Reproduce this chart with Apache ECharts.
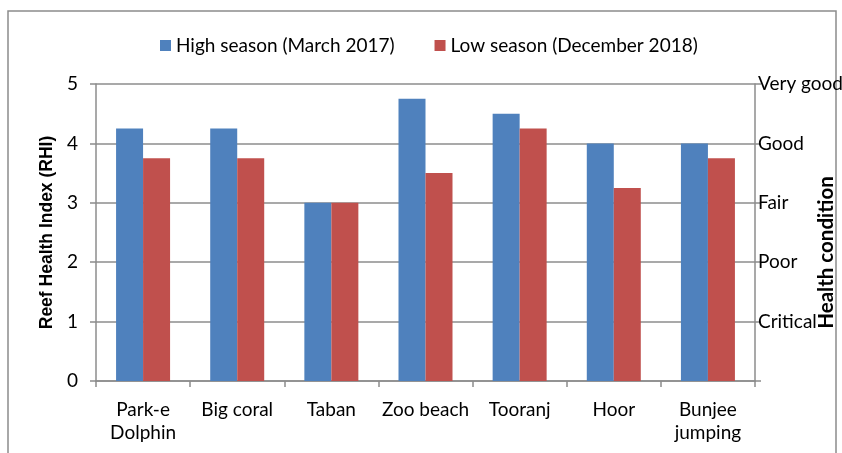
<!DOCTYPE html>
<html>
<head>
<meta charset="utf-8">
<script src="https://cdn.jsdelivr.net/npm/echarts@6/dist/echarts.min.js"></script>
<style>
  html, body { margin: 0; padding: 0; background: #fff; }
  #main { width: 842px; height: 453px; }
</style>
</head>
<body>
<div id="main"></div>
<script>
var sites = ['Park-e\nDolphin', 'Big coral', 'Taban', 'Zoo beach', 'Tooranj', 'Hoor', 'Bunjee\njumping'];
var highSeason = [4.25, 4.25, 3, 4.75, 4.5, 4, 4];
var lowSeason = [3.75, 3.75, 3, 3.5, 4.25, 3.25, 3.75];
var conditionLabels = ['', 'Critical', 'Poor', 'Fair', 'Good', 'Very good'];

window.onload = function() {
  var ch = echarts.init(document.getElementById('main'));
  var font = 'Lato, "Open Sans", sans-serif';
  var op = {
    textStyle: { fontFamily: font },
    graphic: [{
      type: 'rect',
      shape: { x: 8, y: 11, width: 828, height: 460 },
      style: { fill: 'none', stroke: '#8c8c8c', lineWidth: 1.5 },
      silent: true
    }],
    legend: {
      top: 31,
      left: 155,
      itemWidth: 11,
      itemHeight: 11,
      itemGap: 40,
      icon: 'rect',
      textStyle: { fontSize: 19, color: '#000', fontFamily: font }
    },
    grid: {
      left: 96,
      right: 87,
      top: 84,
      bottom: 72,
      outerBoundsMode: 'none'
    },
    xAxis: {
      type: 'category',
      data: sites,
      axisLine: { lineStyle: { color: '#8c8c8c', width: 1.5 } },
      axisTick: { show: true, length: 6, lineStyle: { color: '#8c8c8c', width: 1.5 } },
      axisLabel: { color: '#000', fontSize: 19, margin: 17, lineHeight: 23, interval: 0, fontFamily: font }
    },
    yAxis: [{
      type: 'value',
      min: 0,
      max: 5,
      interval: 1,
      name: 'Reef Health Index (RHI)',
      nameLocation: 'middle',
      nameGap: 40,
      nameMoveOverlap: false,
      nameTextStyle: { fontSize: 17.5, fontWeight: 'bold', color: '#000', fontFamily: '"Liberation Sans", Arial, sans-serif' },
      axisLine: { show: true, lineStyle: { color: '#8c8c8c', width: 1.5 } },
      axisTick: { show: true, length: 6, lineStyle: { color: '#8c8c8c', width: 1.5 } },
      axisLabel: { color: '#000', fontSize: 19, margin: 18, fontFamily: font },
      splitLine: { lineStyle: { color: '#8c8c8c', width: 1.5 } }
    }, {
      type: 'value',
      min: 0,
      max: 5,
      interval: 1,
      position: 'right',
      name: 'Health condition',
      nameLocation: 'middle',
      nameGap: 61,
      nameRotate: 90,
      nameMoveOverlap: false,
      nameTextStyle: { fontSize: 20.5, fontWeight: 'bold', color: '#000', fontFamily: font, padding: [0, 40, 0, 0] },
      axisLine: { show: true, lineStyle: { color: '#8c8c8c', width: 1.5 } },
      axisTick: { show: true, length: 6, lineStyle: { color: '#8c8c8c', width: 1.5 } },
      axisLabel: {
        color: '#000', fontSize: 19, margin: 3, fontFamily: font,
        padding: [3, 0, 0, 0],
        formatter: function(v) { return conditionLabels[v]; }
      },
      splitLine: { show: false }
    }],
    series: [{
      name: 'High season (March 2017)',
      type: 'bar',
      data: highSeason,
      barWidth: 27,
      barGap: '0%',
      itemStyle: { color: '#4f81bd' }
    }, {
      name: 'Low season (December 2018)',
      type: 'bar',
      data: lowSeason,
      barWidth: 27,
      itemStyle: { color: '#c0504d' }
    }]
  };
  ch.setOption(op);
};
</script>
</body>
</html>
